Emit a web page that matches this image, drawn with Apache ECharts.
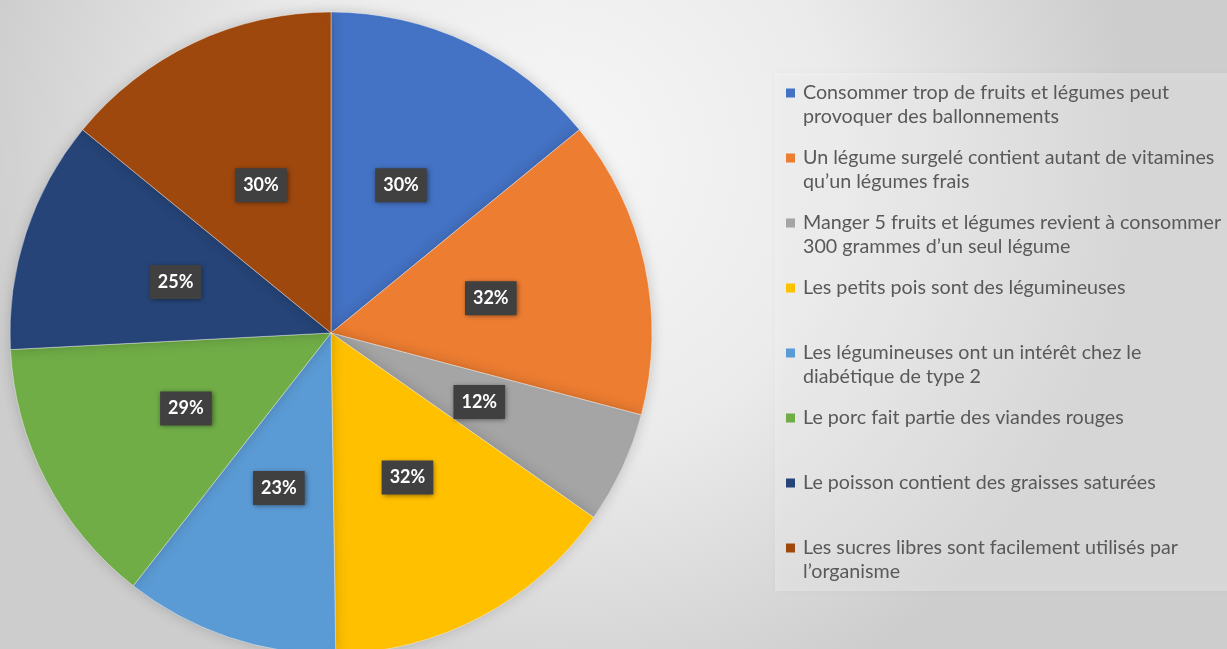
<!DOCTYPE html>
<html>
<head>
<meta charset="utf-8">
<script src="https://cdn.jsdelivr.net/npm/echarts@6/dist/echarts.min.js"></script>
<style>
  html, body { margin: 0; padding: 0; }
  #chart { width: 1227px; height: 649px; }
</style>
</head>
<body>
<div id="chart"></div>
<script>
const categories = [
    "Consommer trop de fruits et légumes peut\nprovoquer des ballonnements",
    "Un légume surgelé contient autant de vitamines\nqu’un légumes frais",
    "Manger 5 fruits et légumes revient à consommer\n300 grammes d’un seul légume",
    "Les petits pois sont des légumineuses",
    "Les légumineuses ont un intérêt chez le\ndiabétique de type 2",
    "Le porc fait partie des viandes rouges",
    "Le poisson contient des graisses saturées",
    "Les sucres libres sont facilement utilisés par\nl’organisme",
];
const values = [30, 32, 12, 32, 23, 29, 25, 30];
const colors = ["#4472C4", "#ED7D31", "#A5A5A5", "#FFC000", "#5B9BD5", "#70AD47", "#264478", "#9E480E"];

const chart = echarts.init(document.getElementById("chart"));

const rich = {
    t: { fontFamily: "Lato", fontSize: 19.7, color: "#595959", lineHeight: 24 },
    g: { width: 8, lineHeight: 24 },
    s: { width: 17, lineHeight: 24 },
};
colors.forEach((c, i) => {
    rich["m" + i] = { width: 9, height: 9, backgroundColor: c, lineHeight: 24 };
});

const option = {
    backgroundColor: {
        type: "radial",
        x: 0.45,
        y: 0.25,
        r: 0.9,
        colorStops: [
            { offset: 0, color: "#f7f7f7" },
            { offset: 0.5, color: "#ebebeb" },
            { offset: 1, color: "#cdcdcd" },
        ],
    },
    legend: {
        orient: "vertical",
        left: 775,
        top: 73,
        padding: [10, 30, 9, 5],
        itemGap: 21,
        itemWidth: 0,
        itemHeight: 0,
        backgroundColor: "rgba(255,255,255,0.3)",
        shadowColor: "rgba(0,0,0,0.12)",
        shadowBlur: 6,
        selectedMode: false,
        data: categories,
        formatter: (name) => {
            const i = categories.indexOf(name);
            const lines = name.split("\n");
            const second = lines[1] || " ";
            return `{m${i}|}{g|}{t|${lines[0]}}\n{s|}{t|${second}}`;
        },
        textStyle: { rich: rich },
    },
    series: [
        {
            type: "pie",
            center: [331, 333],
            radius: 321,
            startAngle: 90,
            clockwise: true,
            animation: false,
            silent: true,
            itemStyle: {
                borderColor: "rgba(255,255,255,0.4)",
                borderWidth: 1,
                shadowColor: "rgba(0,0,0,0.18)",
                shadowBlur: 14,
            },
            label: {
                position: "inside",
                formatter: "{c}%",
                fontFamily: "Lato",
                fontWeight: "bold",
                fontSize: 18,
                color: "#ffffff",
                backgroundColor: "#404040",
                padding: [8, 8],
                shadowColor: "rgba(0,0,0,0.5)",
                shadowBlur: 5,
                shadowOffsetX: 1,
                shadowOffsetY: 1,
            },
            labelLine: { show: false },
            data: categories.map((name, i) => ({
                name: name,
                value: values[i],
                itemStyle: { color: colors[i] },
            })),
        },
    ],
};

chart.setOption(option);
</script>
</body>
</html>
